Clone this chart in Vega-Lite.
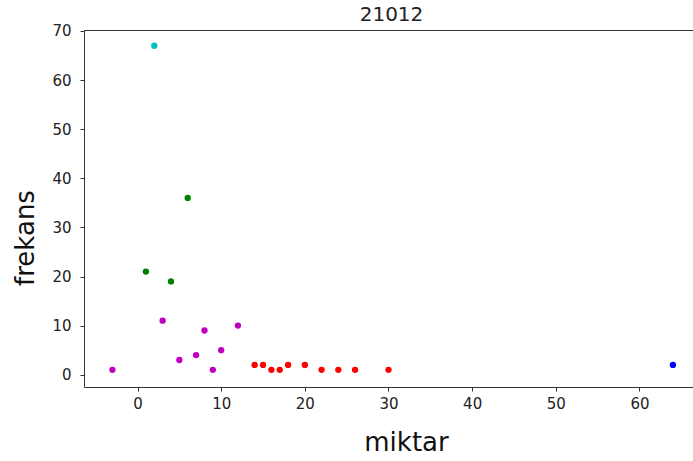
{
  "$schema": "https://vega.github.io/schema/vega-lite/v6.json",
  "width": 609,
  "height": 357,
  "autosize": {"type": "none"},
  "padding": {"left": 84, "top": 30, "right": 0, "bottom": 74},
  "background": "white",
  "config": {
    "view": {"stroke": null},
    "font": "DejaVu Sans",
    "axis": {
      "grid": false,
      "domainColor": "#333333",
      "tickColor": "#333333",
      "labelColor": "#222222",
      "labelFont": "DejaVu Sans",
      "labelFontSize": 15,
      "titleFont": "DejaVu Sans",
      "titleFontWeight": "normal",
      "titleColor": "#111111",
      "tickSize": 4
    }
  },
  "title": {
    "text": "21012",
    "fontSize": 20,
    "font": "DejaVu Sans",
    "fontWeight": "normal",
    "color": "#222222",
    "anchor": "middle",
    "frame": "group",
    "baseline": "alphabetic",
    "offset": 0,
    "dy": 17,
    "dx": 3
  },
  "data": {
    "values": [
      {"miktar": 2, "frekans": 67, "grp": "c"},
      {"miktar": 1, "frekans": 21, "grp": "g"},
      {"miktar": 4, "frekans": 19, "grp": "g"},
      {"miktar": 6, "frekans": 36, "grp": "g"},
      {"miktar": -3, "frekans": 1, "grp": "m"},
      {"miktar": 3, "frekans": 11, "grp": "m"},
      {"miktar": 5, "frekans": 3, "grp": "m"},
      {"miktar": 7, "frekans": 4, "grp": "m"},
      {"miktar": 8, "frekans": 9, "grp": "m"},
      {"miktar": 9, "frekans": 1, "grp": "m"},
      {"miktar": 10, "frekans": 5, "grp": "m"},
      {"miktar": 12, "frekans": 10, "grp": "m"},
      {"miktar": 14, "frekans": 2, "grp": "r"},
      {"miktar": 15, "frekans": 2, "grp": "r"},
      {"miktar": 16, "frekans": 1, "grp": "r"},
      {"miktar": 17, "frekans": 1, "grp": "r"},
      {"miktar": 18, "frekans": 2, "grp": "r"},
      {"miktar": 20, "frekans": 2, "grp": "r"},
      {"miktar": 22, "frekans": 1, "grp": "r"},
      {"miktar": 24, "frekans": 1, "grp": "r"},
      {"miktar": 26, "frekans": 1, "grp": "r"},
      {"miktar": 30, "frekans": 1, "grp": "r"},
      {"miktar": 64, "frekans": 2, "grp": "b"}
    ]
  },
  "layer": [
    {
      "mark": {"type": "circle", "size": 40, "opacity": 1},
      "encoding": {
        "x": {
          "field": "miktar",
          "type": "quantitative",
          "scale": {"domain": [-6.4, 66.4], "nice": false, "zero": false},
          "axis": {
            "values": [0, 10, 20, 30, 40, 50, 60],
            "labelPadding": 5,
            "title": "miktar",
            "titleFontSize": 26,
            "titleX": 322,
            "titleY": 63,
            "titleAlign": "center",
            "titleBaseline": "alphabetic"
          }
        },
        "y": {
          "field": "frekans",
          "type": "quantitative",
          "scale": {"domain": [-2.5, 70.2], "nice": false, "zero": false},
          "axis": {
            "values": [0, 10, 20, 30, 40, 50, 60, 70],
            "labelPadding": 9,
            "title": "frekans",
            "titleFontSize": 26,
            "titleX": -51,
            "titleY": 207.5,
            "titleAngle": -90,
            "titleAlign": "center",
            "titleBaseline": "alphabetic"
          }
        },
        "color": {
          "field": "grp",
          "type": "nominal",
          "scale": {
            "domain": ["c", "g", "m", "r", "b"],
            "range": ["#00BFBF", "#008000", "#BF00BF", "#FF0000", "#0000FF"]
          },
          "legend": null
        }
      }
    },
    {
      "mark": {"type": "circle", "opacity": 0},
      "encoding": {
        "x": {
          "field": "miktar",
          "type": "quantitative",
          "scale": {"domain": [-6.4, 66.4], "nice": false, "zero": false},
          "axis": {
            "orient": "top",
            "labels": false,
            "ticks": false,
            "title": null,
            "domain": true
          }
        }
      }
    }
  ],
  "resolve": {"axis": {"x": "independent"}}
}
